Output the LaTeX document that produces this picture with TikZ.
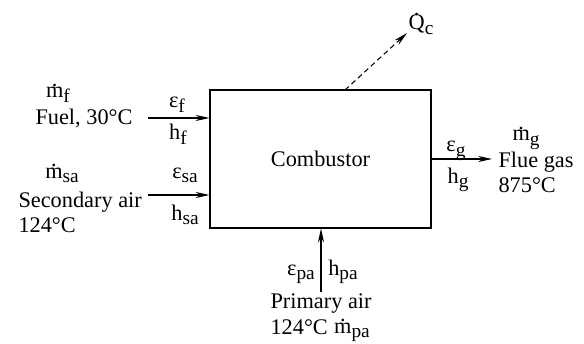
\documentclass[tikz,border=0pt]{standalone}
\usepackage{fontspec}
\setmainfont{Liberation Serif}
\usetikzlibrary{arrows.meta}
\newcommand{\sub}[2][-2.5pt]{\raisebox{#1}{\fontsize{11}{13}\selectfont #2}}
\newcommand{\withdot}[2]{\ooalign{#1\cr\hidewidth\raisebox{#2}{.}\hidewidth\cr}}
\newcommand{\mdot}{\withdot{m}{0.5em}}
\newcommand{\Qdot}{\withdot{Q}{0.66em}}
\begin{document}
\begin{tikzpicture}[x=0.02cm, y=-0.02cm, >={Stealth[length=8pt,width=3.5pt]}, line width=0.6pt,
    font=\fontsize{12.7}{15}\selectfont, every node/.style={inner sep=0pt},
    lbl/.style={anchor=base}, lblw/.style={anchor=base west}]
    \useasboundingbox (0,0) rectangle (584,344);

    % Combustor
    \node[draw, minimum width=4.42cm, minimum height=2.76cm] (comb) at (320.5,159) {Combustor};

    % Free ends of the streams
    \coordinate (fin) at (148,118);
    \coordinate (sain) at (148,195);
    \coordinate (pain) at (321,292);
    \coordinate (gout) at (492,159);
    \coordinate (qbase) at (345,90);
    \coordinate (qtip) at (407,33);

    % Streams
    \draw[->] (fin) -- (fin -| comb.west);
    \draw[->] (sain) -- (sain -| comb.west);
    \draw[->] (pain) -- (pain |- comb.south);
    \draw[->] (comb.east |- gout) -- (gout);
    \draw[->, dash pattern=on 3pt off 2pt] (qbase) -- (qtip);

    % Fuel
    \node[lbl] (mf) at (58,98) {\mdot\sub{f}};
    \node[lbl] (fuel) at (84,125) {Fuel, 30°C};
    \node[lbl] (ef) at (177,108) {ε\sub{f}};
    \node[lbl] (hf) at (178,140) {h\sub{f}};

    % Secondary air
    \node[lbl] (msa) at (62,178) {\mdot\sub{sa}};
    \node[lblw] (sa) at (18,207) {Secondary air};
    \node[lblw] (tsa) at (18,232) {124°C};
    \node[lbl] (esa) at (185,178) {ε\sub{sa}};
    \node[lbl] (hsa) at (185,220) {h\sub{sa}};

    % Flue gas
    \node[lbl] (eg) at (456,152) {ε\sub{g}};
    \node[lbl] (hg) at (458,183) {h\sub{g}};
    \node[lbl] (mg) at (526,141) {\mdot\sub{g}};
    \node[lblw] (fg) at (498,168) {Flue gas};
    \node[lblw] (tg) at (498,193) {875°C};

    % Heat
    \node[lbl] (qc) at (421,30) {\Qdot\sub{c}};

    % Primary air
    \node[lbl] (epa) at (301,275) {ε\sub{pa}};
    \node[lbl] (hpa) at (343,275) {h\sub{pa}};
    \node[lblw] (pa) at (270,308) {Primary air};
    \node[lblw] (tpa) at (270,334) {124°C};
    \node[lbl] (mpa) at (352,333) {\mdot\sub{pa}};
\end{tikzpicture}
\end{document}
